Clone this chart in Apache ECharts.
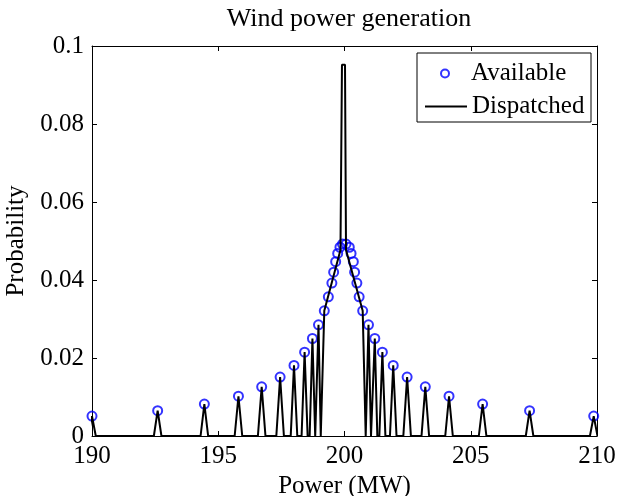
<!DOCTYPE html>
<html>
<head>
<meta charset="utf-8">
<script src="https://cdn.jsdelivr.net/npm/echarts@6/dist/echarts.min.js"></script>
<style>
html,body{margin:0;padding:0;background:#fff;}
#chart{width:619px;height:496px;}
</style>
</head>
<body>
<div id="chart"></div>
<script>
// Available generation outcomes (MW) and their probabilities
var availableX = [190.0, 192.6, 194.45, 195.8, 196.72, 197.45, 198.0, 198.42, 198.73, 198.97,
  199.2, 199.36, 199.5, 199.57, 199.65, 199.73, 199.82, 199.92,
  200.06, 200.19, 200.26, 200.35, 200.4, 200.49, 200.58, 200.72,
  200.95, 201.2, 201.5, 201.93, 202.48, 203.2, 204.14, 205.47, 207.33, 209.87];
var availableP = [0.0051, 0.0065, 0.0082, 0.0102, 0.0126, 0.0151, 0.0181, 0.0215, 0.0250, 0.0285,
  0.0321, 0.0357, 0.0392, 0.0420, 0.0447, 0.0468, 0.0484, 0.0492,
  0.0492, 0.0484, 0.0468, 0.0447, 0.0420, 0.0392, 0.0357, 0.0321,
  0.0285, 0.0250, 0.0215, 0.0181, 0.0151, 0.0126, 0.0102, 0.0082, 0.0065, 0.0051];

// Dispatched curve vertices (MW, probability)
var dispatchedX = [189.85, 190.0, 190.15,
  192.45, 192.6, 192.75,
  194.3, 194.45, 194.6,
  195.65, 195.8, 195.95,
  196.57, 196.72, 196.87,
  197.3, 197.45, 197.6,
  197.87, 198.0, 198.13,
  198.3, 198.42, 198.54,
  198.62, 198.73, 198.84,
  198.88, 198.97, 199.06,
  199.2, 199.84, 199.9, 200.02, 200.06, 200.72, 200.84,
  200.87, 200.95, 201.05,
  201.1, 201.2, 201.3,
  201.38, 201.5, 201.62,
  201.8, 201.93, 202.06,
  202.33, 202.48, 202.63,
  203.05, 203.2, 203.35,
  203.99, 204.14, 204.29,
  205.32, 205.47, 205.62,
  207.18, 207.33, 207.48,
  209.72, 209.87, 210.02];
var dispatchedP = [0, 0.0051, 0,
  0, 0.0065, 0,
  0, 0.0082, 0,
  0, 0.0102, 0,
  0, 0.0126, 0,
  0, 0.0151, 0,
  0, 0.0181, 0,
  0, 0.0215, 0,
  0, 0.0250, 0,
  0, 0.0285, 0,
  0.0321, 0.0477, 0.0952, 0.0952, 0.0477, 0.0321, 0,
  0, 0.0285, 0,
  0, 0.0250, 0,
  0, 0.0215, 0,
  0, 0.0181, 0,
  0, 0.0151, 0,
  0, 0.0126, 0,
  0, 0.0102, 0,
  0, 0.0082, 0,
  0, 0.0065, 0,
  0, 0.0051, 0];

var xTicks = [190, 195, 200, 205, 210];
var yTicks = [0, 0.02, 0.04, 0.06, 0.08, 0.1];

var FONT = 'Liberation Serif';

var availData = availableX.map(function (x, i) { return [x, availableP[i]]; });
var dispData = dispatchedX.map(function (x, i) { return [x, dispatchedP[i]]; });

function axisCommon(showLabel) {
  return {
    axisLine: { show: true, onZero: false, lineStyle: { color: '#000', width: 1 } },
    axisTick: { show: true, inside: true, length: 5, lineStyle: { color: '#000', width: 1 } },
    splitLine: { show: false },
    axisLabel: { show: showLabel, color: '#000', fontFamily: FONT, fontSize: 25 }
  };
}

var x0 = Object.assign(axisCommon(true), {
  type: 'value', position: 'bottom', min: xTicks[0], max: xTicks[xTicks.length - 1], interval: 5,
  name: 'Power (MW)', nameLocation: 'middle', nameGap: 29,
  nameTextStyle: { color: '#000', fontFamily: FONT, fontSize: 25 }
});
x0.axisLabel.margin = 8;
var x1 = Object.assign(axisCommon(false), {
  type: 'value', position: 'top', min: xTicks[0], max: xTicks[xTicks.length - 1], interval: 5
});
var y0 = Object.assign(axisCommon(true), {
  type: 'value', position: 'left', min: yTicks[0], max: yTicks[yTicks.length - 1], interval: 0.02,
  name: 'Probability', nameLocation: 'middle', nameGap: 56,
  nameTextStyle: { color: '#000', fontFamily: FONT, fontSize: 25 }
});
y0.axisLabel.margin = 8;
var y1 = Object.assign(axisCommon(false), {
  type: 'value', position: 'right', min: yTicks[0], max: yTicks[yTicks.length - 1], interval: 0.02
});

var chart = echarts.init(document.getElementById('chart'), null, { renderer: 'canvas' });
chart.setOption({
  backgroundColor: '#fff',
  animation: false,
  title: {
    text: 'Wind power generation',
    left: 344, top: 1, textAlign: 'center',
    textStyle: { color: '#000', fontFamily: FONT, fontSize: 26, fontWeight: 'normal' }
  },
  grid: { left: 92, right: 22, top: 46, bottom: 60, containLabel: false, outerBoundsMode: 'none' },
  xAxis: [x0, x1],
  yAxis: [y0, y1],
  graphic: [{
    type: 'rect', z: 3, silent: true,
    shape: { x: 417, y: 53, width: 174, height: 69 },
    style: { fill: '#fff', stroke: '#000', lineWidth: 1 }
  }],
  legend: [{
    data: [{ name: 'Available', icon: 'circle' }],
    left: 440, top: 61, padding: 0, itemWidth: 42, itemHeight: 8, itemGap: 5,
    textStyle: { color: '#000', fontFamily: FONT, fontSize: 25 }, z: 5
  }, {
    data: [{ name: 'Dispatched', icon: 'rect' }],
    left: 425, top: 94, padding: 0, itemWidth: 42, itemHeight: 2, itemGap: 5,
    itemStyle: { color: '#000' },
    textStyle: { color: '#000', fontFamily: FONT, fontSize: 25 }, z: 5
  }],
  series: [{
    name: 'Available', type: 'scatter', data: availData,
    symbol: 'circle', symbolSize: 9,
    itemStyle: { color: 'rgba(255,255,255,0)', borderColor: '#0000ff', borderWidth: 2 },
    z: 2
  }, {
    name: 'Dispatched', type: 'line', data: dispData,
    symbol: 'none', clip: true,
    lineStyle: { color: '#000', width: 2 },
    itemStyle: { color: '#000' },
    z: 3
  }]
});
</script>
</body>
</html>
